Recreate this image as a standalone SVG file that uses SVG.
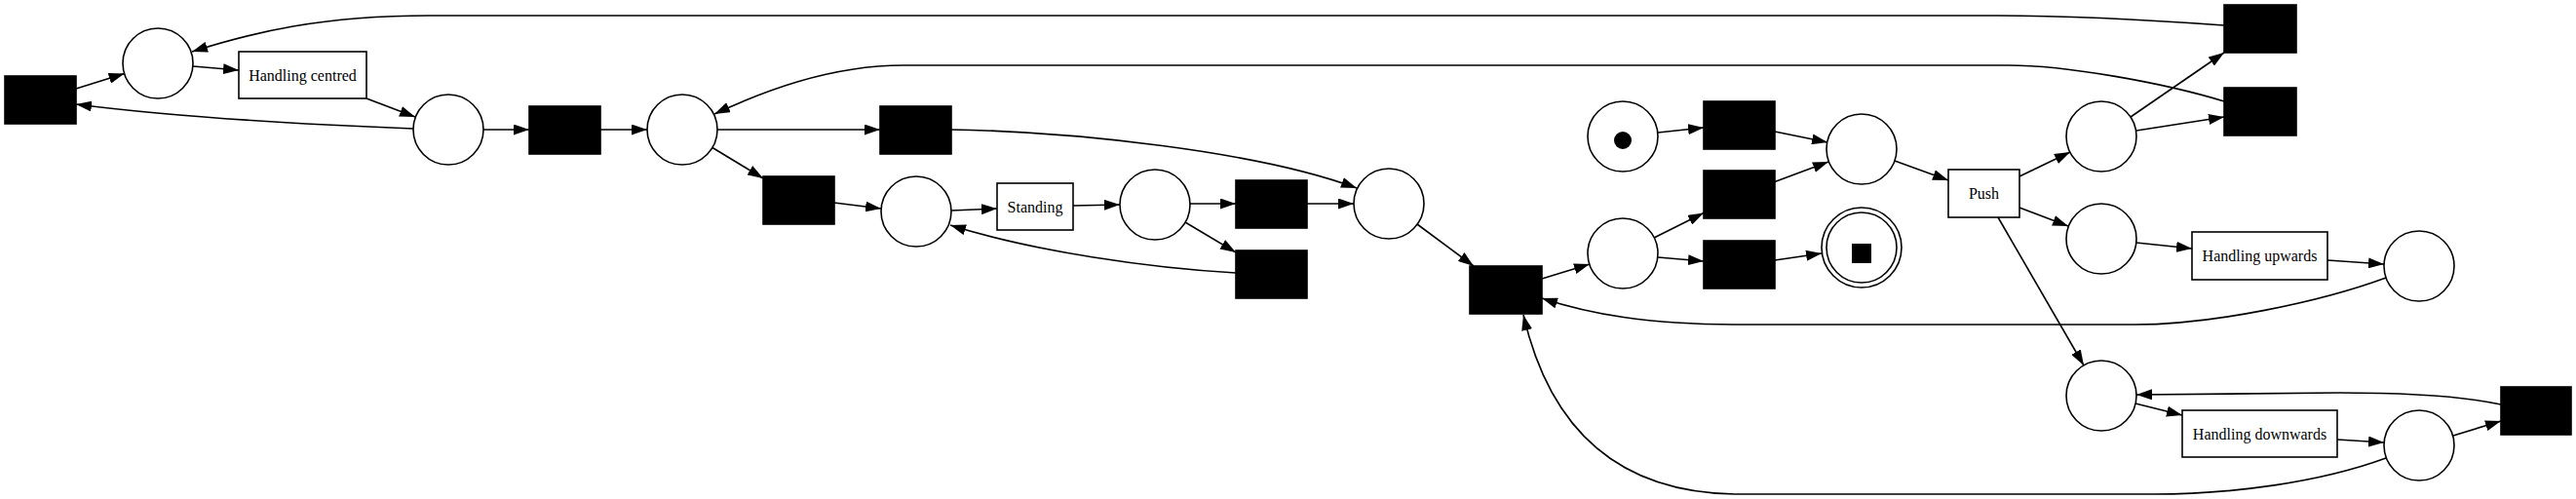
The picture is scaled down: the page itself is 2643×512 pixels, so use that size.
<svg xmlns="http://www.w3.org/2000/svg" width="2643" height="512" viewBox="0 0 2643 512">
<style>
.pl{fill:#fff;stroke:#000;stroke-width:1.6}
.bt{fill:#000;stroke:#000;stroke-width:1.6}
.lt{fill:#fff;stroke:#000;stroke-width:1.6}
.lb{font-family:"Liberation Serif","Times New Roman",serif;font-size:16px;fill:#000;text-anchor:middle}
.ed path{fill:none;stroke:#000;stroke-width:1.6;marker-end:url(#ah)}
</style>
<defs>
<marker id="ah" markerUnits="userSpaceOnUse" markerWidth="16" markerHeight="11" viewBox="0 0 16 11" refX="16" refY="5.5" orient="auto">
<path d="M0,0 L16,5.5 L0,11 Z" fill="#000"/>
</marker>
</defs>
<rect width="2643" height="512" fill="#fff"/>
<g id="connectors" class="ed">
<path d="M78,91 L127.6,75.6"/>
<path d="M198,68 L245,72"/>
<path d="M376,101 L426,120"/>
<path d="M424,132 C320,128 180,120 78,107"/>
<path d="M496,133 L543,133"/>
<path d="M616,133 L664,133"/>
<path d="M2282,26 C2200,20 2110,16 2050,16 L440,16 C330,16 260,33 197,53"/>
<path d="M2282,104 C2220,85 2120,67 2060,67 L927,67 C850,67 780,95 733,117"/>
<path d="M736,133 L903,133"/>
<path d="M731,151.5 L783,183"/>
<path d="M976,133 C1100,135 1290,155 1392,193"/>
<path d="M856,208 L904,214"/>
<path d="M976,216 L1023,214"/>
<path d="M1101,211 L1149,210"/>
<path d="M1221,209 L1268,209"/>
<path d="M1216,228 L1268,259"/>
<path d="M1268,280 C1180,275 1060,258 975,231"/>
<path d="M1341,209 L1389,209"/>
<path d="M1454,230 L1512,273"/>
<path d="M1582,286 L1631,271"/>
<path d="M1701,136 L1748,131"/>
<path d="M1697,244 L1748,218.5"/>
<path d="M1701,264 L1748,268"/>
<path d="M1821,135 L1875,146"/>
<path d="M1821,186.5 L1876,166"/>
<path d="M1821,267 L1869,260"/>
<path d="M1944,165 L1999,185"/>
<path d="M2072,181 L2124,156"/>
<path d="M2072,213 L2122,232"/>
<path d="M2050,223 L2138,375"/>
<path d="M2186,120 L2282,54"/>
<path d="M2192,134 L2282,120"/>
<path d="M2192,249 L2249,255"/>
<path d="M2388,267 L2446,271"/>
<path d="M2448,285 C2380,310 2270,333 2190,333 L1785,333 C1690,333 1630,322 1582,306"/>
<path d="M2398,451 L2446,454"/>
<path d="M2191,414 L2239,426"/>
<path d="M2517,447 L2566,432"/>
<path d="M2566,415 C2520,405 2460,403 2400,403 L2192,405"/>
<path d="M2448,470 C2380,495 2290,507 2210,507 L1785,507 C1660,507 1590,440 1563,323"/>
</g>
<g id="t_left"><rect class="bt" x="5" y="78" width="73" height="49"/></g>
<g id="p1"><circle class="pl" cx="162" cy="65" r="36"/></g>
<g id="t_handling_centred"><rect class="lt" x="245" y="53" width="131" height="48"/><text class="lb" x="310.5" y="82.5">Handling centred</text></g>
<g id="p2"><circle class="pl" cx="460" cy="133" r="36"/></g>
<g id="t2"><rect class="bt" x="543" y="109" width="73" height="49"/></g>
<g id="p3"><circle class="pl" cx="700" cy="133" r="36"/></g>
<g id="t3"><rect class="bt" x="903" y="109" width="73" height="49"/></g>
<g id="t4"><rect class="bt" x="783" y="181" width="73" height="49"/></g>
<g id="p4"><circle class="pl" cx="940" cy="217" r="36"/></g>
<g id="t_standing"><rect class="lt" x="1023" y="188" width="78" height="48"/><text class="lb" x="1062" y="217.5">Standing</text></g>
<g id="p5"><circle class="pl" cx="1185" cy="210" r="36"/></g>
<g id="t5"><rect class="bt" x="1268" y="185" width="73" height="49"/></g>
<g id="t6"><rect class="bt" x="1268" y="257" width="73" height="49"/></g>
<g id="p6"><circle class="pl" cx="1425" cy="209" r="36"/></g>
<g id="t7"><rect class="bt" x="1508" y="273" width="74" height="49"/></g>
<g id="p_start"><circle class="pl" cx="1665" cy="140" r="36"/><circle cx="1665" cy="144" r="9" fill="#000"/></g>
<g id="t8"><rect class="bt" x="1748" y="104" width="73" height="49"/></g>
<g id="t9"><rect class="bt" x="1748" y="175" width="73" height="49"/></g>
<g id="t10"><rect class="bt" x="1748" y="247" width="73" height="49"/></g>
<g id="p7"><circle class="pl" cx="1665" cy="260" r="36"/></g>
<g id="p8"><circle class="pl" cx="1910" cy="153" r="36"/></g>
<g id="p_end"><circle class="pl" cx="1910" cy="254" r="41"/><circle class="pl" cx="1910" cy="254" r="36"/><rect x="1900" y="250" width="20" height="20" fill="#000"/></g>
<g id="t_push"><rect class="lt" x="1999" y="174" width="73" height="49"/><text class="lb" x="2035.5" y="203.5">Push</text></g>
<g id="p9"><circle class="pl" cx="2156" cy="140" r="36"/></g>
<g id="p10"><circle class="pl" cx="2156" cy="245" r="36"/></g>
<g id="t11"><rect class="bt" x="2282" y="5" width="74" height="49"/></g>
<g id="t12"><rect class="bt" x="2282" y="90" width="74" height="49"/></g>
<g id="t_handling_upwards"><rect class="lt" x="2249" y="238" width="139" height="49"/><text class="lb" x="2318.5" y="268">Handling upwards</text></g>
<g id="p11"><circle class="pl" cx="2482" cy="273" r="36"/></g>
<g id="p12"><circle class="pl" cx="2156" cy="406" r="36"/></g>
<g id="t_handling_downwards"><rect class="lt" x="2239" y="421" width="159" height="48"/><text class="lb" x="2318.5" y="450.5">Handling downwards</text></g>
<g id="p13"><circle class="pl" cx="2482" cy="457" r="36"/></g>
<g id="t13"><rect class="bt" x="2566" y="397" width="72" height="49"/></g>
</svg>
